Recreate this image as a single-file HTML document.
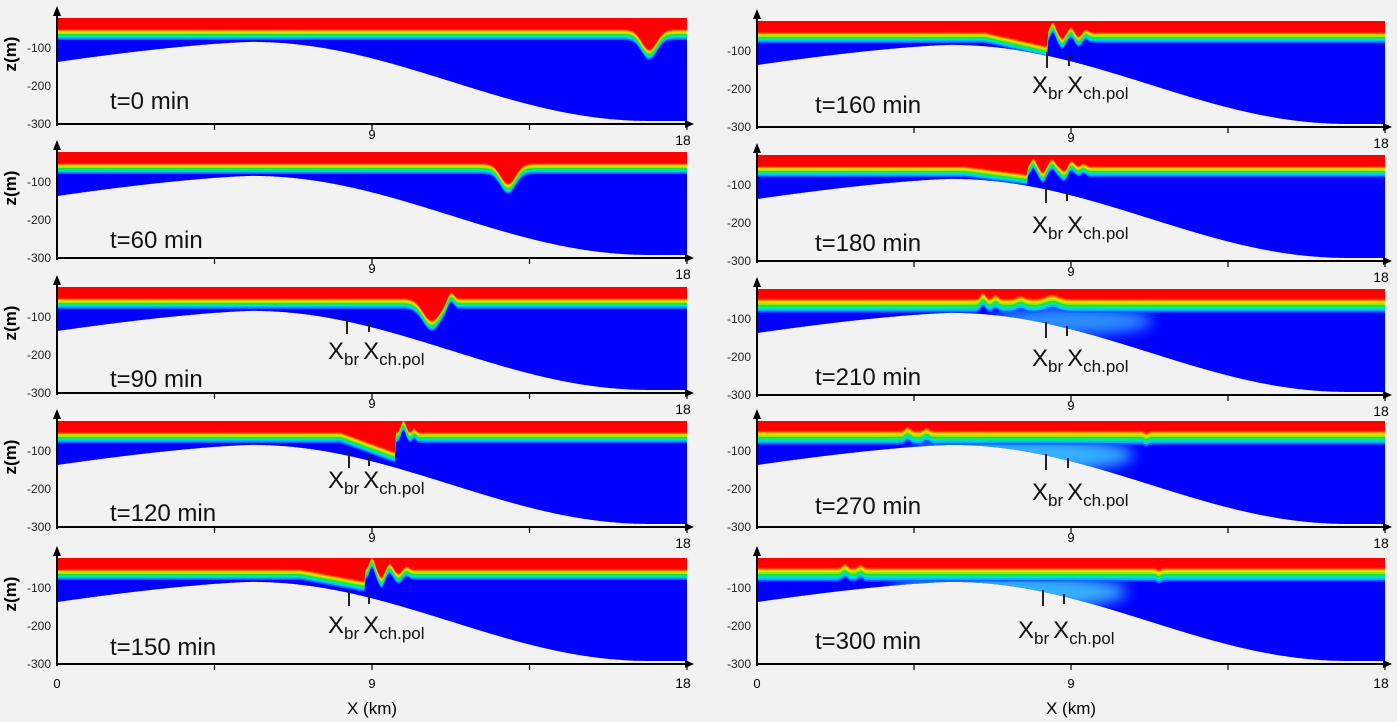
<!DOCTYPE html>
<html><head><meta charset="utf-8">
<style>
html,body{margin:0;padding:0;background:#f2f2f2;}
svg{display:block;font-family:"Liberation Sans",sans-serif;}
</style></head>
<body>
<svg id="s" width="1397" height="722" viewBox="0 0 1397 722" xmlns="http://www.w3.org/2000/svg">
<rect width="1397" height="722" fill="#f2f2f2"/>
</svg>
<script>
const S=document.getElementById('s');
let html='';
function bz(u){
  if(u<0.31){const t=(0.31-u)/0.31;return -84-53*Math.pow(t,1.4);}
  const t=Math.min(1,(u-0.31)/0.63);return -84-208*(1-Math.cos(Math.PI*t))/2;
}
function gauss(u,c,a,w){return a*Math.exp(-((u-c)*(u-c))/(2*w*w));}
let cid=0;
function panel(o){
  const {x0,x1,yb}=o, W=x1-x0, N=500;
  const yTop=yb-106;
  const fy=u=>{let y=yb-89.5;
    for(const f of (o.g||[]))y+=gauss(u,f[0],f[1],f[2]);
    for(const r of (o.r||[])){ if(u>r[0]&&u<=r[1])y+=r[2]*(u-r[0])/(r[1]-r[0]); }
    return y;};
  const by=u=>yb-(300+bz(u))*0.38;
  let pts=[[x0,yTop],[x1,yTop]];
  for(let i=N;i>=0;i--){const u=i/N;pts.push([x0+u*W,Math.min(yb-1,by(u))]);}
  cid++;
  html+=`<clipPath id="c${cid}"><polygon points="${pts.map(p=>p[0].toFixed(1)+','+p[1].toFixed(1)).join(' ')}"/></clipPath>`;
  html+=`<g clip-path="url(#c${cid})"><rect x="${x0}" y="${yTop}" width="${W}" height="${yb-yTop}" fill="#0000ff"/>`;
  for(const e of (o.e||[])) html+=`<ellipse cx="${x0+e[0]*W}" cy="${yb-90+e[1]}" rx="${e[2]*W}" ry="${e[3]}" fill="#40d0ff" opacity="${e[4]}" filter="url(#bl)"/>`;
  const s=o.wide?1.3:1;
  const layers=[[5.5,'#0060ff'],[4,'#00c0ff'],[2.5,'#00e8b0'],[1,'#20e040'],[-0.5,'#90f000'],[-2,'#ffe000'],[-3.2,'#ff9000'],[-4.3,'#ff3000'],[-5.3,'#ff0000']];
  for(const L of layers){
    let d=`M${x0},${yTop}`;
    for(let i=0;i<=N;i++){const u=i/N;d+=` L${(x0+u*W).toFixed(1)},${(fy(u)+L[0]*s).toFixed(1)}`;}
    d+=` L${x1},${yTop}Z`;
    html+=`<path d="${d}" fill="${L[1]}"/>`;
  }
  html+=`</g>`;
  const ax=yb-116;
  html+=`<line x1="${x0}" y1="${ax}" x2="${x0}" y2="${yb+2}" stroke="#000" stroke-width="2"/>`;
  html+=`<polygon points="${x0-4},${ax+8} ${x0+4},${ax+8} ${x0},${ax-2}" fill="#000"/>`;
  html+=`<line x1="${x0}" y1="${yb}" x2="${x1+2}" y2="${yb}" stroke="#000" stroke-width="2"/>`;
  html+=`<polygon points="${x1-2},${yb-4} ${x1-2},${yb+4} ${x1+7},${yb}" fill="#000"/>`;
  for(const t of [0.25,0.5,0.75,1]) html+=`<line x1="${x0+t*W}" y1="${yb}" x2="${x0+t*W}" y2="${yb+6}" stroke="#000" stroke-width="1.2"/>`;
  for(const [z,v] of [[100,'-100'],[200,'-200'],[300,'-300']]){
    const y=yb-(300-z)*0.38;
    html+=`<text x="${x0-6}" y="${y+4}" font-size="12" text-anchor="end" fill="#222">${v}</text>`;
  }
  const ly=o.last?yb+24:yb+15;
  html+=`<text x="${x0+0.5*W}" y="${ly}" font-size="13" text-anchor="middle">9</text>`;
  html+=`<text x="${x1-4}" y="${o.last?ly:yb+21}" font-size="14" text-anchor="middle">18</text>`;
  if(o.last){
    html+=`<text x="${x0}" y="${ly}" font-size="13" text-anchor="middle">0</text>`;
    html+=`<text x="${x0+0.5*W}" y="${yb+50}" font-size="17" text-anchor="middle">X (km)</text>`;
  }
  if(o.zl) html+=`<text transform="translate(16,${yb-70}) rotate(-90)" font-size="17" font-weight="bold" text-anchor="middle">z(m)</text>`;
  html+=`<text x="${o.tx}" y="${o.ty}" font-size="24" fill="#111">${o.t}</text>`;
  if(o.xb){
    const [bx,bxy,t1,t2,ty]=o.xb;
    html+=`<line x1="${t1}" y1="${ty}" x2="${t1}" y2="${ty+16}" stroke="#222" stroke-width="2"/>`;
    html+=`<line x1="${t2}" y1="${ty+4}" x2="${t2}" y2="${ty+14}" stroke="#222" stroke-width="2"/>`;
    html+=`<text x="${bx}" y="${bxy}" font-size="24" fill="#111">X<tspan font-size="17" dy="6">br</tspan><tspan font-size="24" dy="-6" dx="4">X</tspan><tspan font-size="17" dy="6">ch.pol</tspan></text>`;
  }
}
html+=`<defs><filter id="bl" x="-50%" y="-50%" width="200%" height="200%"><feGaussianBlur stdDeviation="7"/></filter></defs>`;
const L={x0:57,x1:687}, R={x0:757,x1:1385};
panel({...L,yb:124,zl:1,t:'t=0 min',tx:110,ty:109,g:[[0.94,20,0.012]]});
panel({...L,yb:258,zl:1,t:'t=60 min',tx:110,ty:248,g:[[0.716,20,0.012]]});
panel({...L,yb:393,zl:1,t:'t=90 min',tx:110,ty:387,g:[[0.595,22,0.014],[0.625,-8,0.005]],xb:[328,359,347,369,318]});
panel({...L,yb:527,zl:1,t:'t=120 min',tx:110,ty:521,r:[[0.45,0.537,20]],g:[[0.55,-12,0.004],[0.567,-4,0.003]],xb:[328,488,349,369,452]});
panel({...L,yb:664,zl:1,last:1,t:'t=150 min',tx:110,ty:655,r:[[0.386,0.489,12]],g:[[0.5,-12,0.004],[0.515,8,0.004],[0.528,-6,0.004],[0.542,4,0.004],[0.555,-3,0.004]],xb:[328,633,349,369,590]});
panel({...R,yb:127,t:'t=160 min',tx:815,ty:113,r:[[0.363,0.462,14]],g:[[0.471,-10,0.004],[0.486,6,0.004],[0.5,-5,0.004],[0.512,4,0.004],[0.524,-3,0.004]],xb:[1032,93,1047,1069,52]});
panel({...R,yb:261,t:'t=180 min',tx:815,ty:251,r:[[0.33,0.43,8]],g:[[0.44,-8,0.004],[0.455,6,0.004],[0.47,-7,0.005],[0.49,5,0.005],[0.5,-6,0.005],[0.52,-3,0.004]],xb:[1032,233,1046,1067,187]});
panel({...R,yb:395,wide:1,t:'t=210 min',tx:815,ty:385,e:[[0.5,16,0.13,14,0.7]],g:[[0.36,-6,0.004],[0.38,-4,0.004],[0.42,-3,0.006],[0.47,-4,0.01]],xb:[1032,366,1046,1067,322]});
panel({...R,yb:527,wide:1,t:'t=270 min',tx:815,ty:514,e:[[0.42,18,0.18,18,0.85]],g:[[0.24,-4,0.004],[0.27,-3,0.004],[0.62,2,0.003]],xb:[1032,500,1046,1068,454]});
panel({...R,yb:664,wide:1,last:1,t:'t=300 min',tx:815,ty:649,e:[[0.4,18,0.19,18,0.85]],g:[[0.14,-4,0.004],[0.165,-3,0.004],[0.64,2,0.003]],xb:[1018,638,1043,1064,590]});
S.innerHTML+=html;
</script>
</body></html>
